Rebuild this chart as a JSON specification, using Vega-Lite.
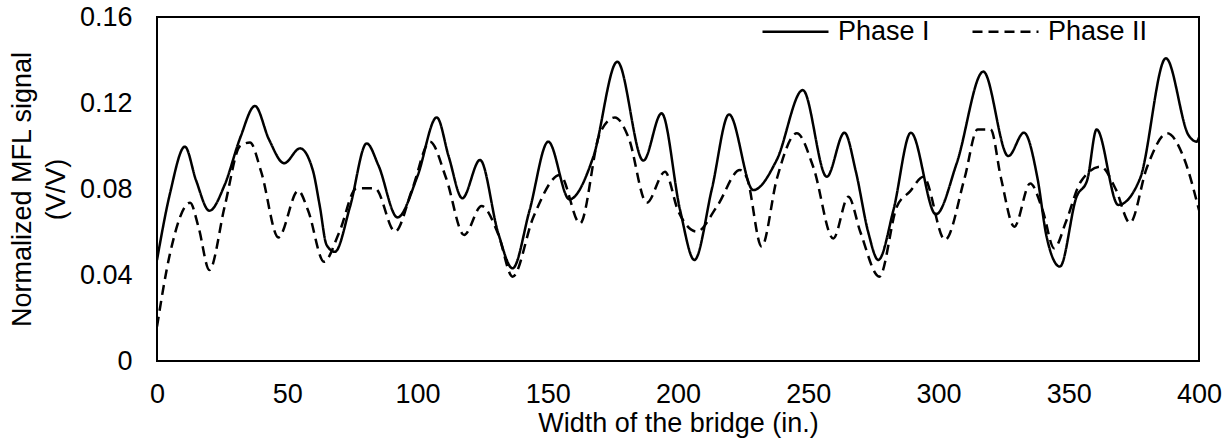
{
  "$schema": "https://vega.github.io/schema/vega-lite/v6.json",
  "width": 1042,
  "height": 344,
  "autosize": {"type": "none"},
  "padding": {"left": 157, "top": 17, "right": 29, "bottom": 80},
  "background": "white",
  "config": {
    "font": "Liberation Sans",
    "view": {"stroke": "#000", "strokeWidth": 2},
    "axis": {"grid": false, "domain": false, "ticks": false, "tickSize": 0, "labelColor": "#000", "titleColor": "#000", "labelFontSize": 27, "titleFontSize": 27, "titleFontWeight": "normal", "labelFont": "Liberation Sans", "titleFont": "Liberation Sans"},
    "legend": {"labelFont": "Liberation Sans", "labelColor": "#000"}
  },
  "data": {"values": [
    {"x": 0, "v": 0.047, "s": "Phase I"},
    {"x": 5, "v": 0.078, "s": "Phase I"},
    {"x": 10.7, "v": 0.0997, "s": "Phase I"},
    {"x": 15, "v": 0.084, "s": "Phase I"},
    {"x": 20.1, "v": 0.0699, "s": "Phase I"},
    {"x": 26, "v": 0.082, "s": "Phase I"},
    {"x": 32, "v": 0.104, "s": "Phase I"},
    {"x": 37.6, "v": 0.1186, "s": "Phase I"},
    {"x": 43, "v": 0.103, "s": "Phase I"},
    {"x": 48.8, "v": 0.092, "s": "Phase I"},
    {"x": 54.9, "v": 0.0989, "s": "Phase I"},
    {"x": 59.8, "v": 0.0888, "s": "Phase I"},
    {"x": 62.5, "v": 0.072, "s": "Phase I"},
    {"x": 65.1, "v": 0.054, "s": "Phase I"},
    {"x": 68.3, "v": 0.0508, "s": "Phase I"},
    {"x": 74.1, "v": 0.0718, "s": "Phase I"},
    {"x": 80.5, "v": 0.1012, "s": "Phase I"},
    {"x": 85, "v": 0.091, "s": "Phase I"},
    {"x": 92.3, "v": 0.0668, "s": "Phase I"},
    {"x": 100, "v": 0.086, "s": "Phase I"},
    {"x": 107.4, "v": 0.1133, "s": "Phase I"},
    {"x": 112, "v": 0.095, "s": "Phase I"},
    {"x": 117.2, "v": 0.0757, "s": "Phase I"},
    {"x": 124, "v": 0.0935, "s": "Phase I"},
    {"x": 131, "v": 0.0594, "s": "Phase I"},
    {"x": 136.5, "v": 0.0431, "s": "Phase I"},
    {"x": 143, "v": 0.07, "s": "Phase I"},
    {"x": 150.2, "v": 0.102, "s": "Phase I"},
    {"x": 158.3, "v": 0.0752, "s": "Phase I"},
    {"x": 167.5, "v": 0.095, "s": "Phase I"},
    {"x": 176.7, "v": 0.1392, "s": "Phase I"},
    {"x": 186.7, "v": 0.0932, "s": "Phase I"},
    {"x": 193.7, "v": 0.1152, "s": "Phase I"},
    {"x": 200.8, "v": 0.0702, "s": "Phase I"},
    {"x": 206.3, "v": 0.047, "s": "Phase I"},
    {"x": 213, "v": 0.08, "s": "Phase I"},
    {"x": 219.6, "v": 0.1147, "s": "Phase I"},
    {"x": 228.9, "v": 0.0795, "s": "Phase I"},
    {"x": 237.9, "v": 0.0935, "s": "Phase I"},
    {"x": 247.9, "v": 0.126, "s": "Phase I"},
    {"x": 257.1, "v": 0.0857, "s": "Phase I"},
    {"x": 263.9, "v": 0.1062, "s": "Phase I"},
    {"x": 268.3, "v": 0.088, "s": "Phase I"},
    {"x": 273, "v": 0.06, "s": "Phase I"},
    {"x": 276.9, "v": 0.047, "s": "Phase I"},
    {"x": 282.7, "v": 0.0702, "s": "Phase I"},
    {"x": 289.4, "v": 0.1062, "s": "Phase I"},
    {"x": 299, "v": 0.0682, "s": "Phase I"},
    {"x": 307, "v": 0.092, "s": "Phase I"},
    {"x": 317.2, "v": 0.1346, "s": "Phase I"},
    {"x": 326.8, "v": 0.0953, "s": "Phase I"},
    {"x": 332.8, "v": 0.1062, "s": "Phase I"},
    {"x": 338, "v": 0.085, "s": "Phase I"},
    {"x": 341.5, "v": 0.0578, "s": "Phase I"},
    {"x": 346.6, "v": 0.0439, "s": "Phase I"},
    {"x": 353, "v": 0.0764, "s": "Phase I"},
    {"x": 357.1, "v": 0.0842, "s": "Phase I"},
    {"x": 360.7, "v": 0.1077, "s": "Phase I"},
    {"x": 369, "v": 0.0726, "s": "Phase I"},
    {"x": 377.4, "v": 0.085, "s": "Phase I"},
    {"x": 387.3, "v": 0.1408, "s": "Phase I"},
    {"x": 396, "v": 0.105, "s": "Phase I"},
    {"x": 399.1, "v": 0.102, "s": "Phase I"},
    {"x": 400, "v": 0.104, "s": "Phase I"},
    {"x": 0, "v": 0.016, "s": "Phase II"},
    {"x": 5, "v": 0.05, "s": "Phase II"},
    {"x": 12.7, "v": 0.0736, "s": "Phase II"},
    {"x": 16, "v": 0.062, "s": "Phase II"},
    {"x": 20.1, "v": 0.0423, "s": "Phase II"},
    {"x": 26, "v": 0.072, "s": "Phase II"},
    {"x": 31.9, "v": 0.1, "s": "Phase II"},
    {"x": 35.7, "v": 0.1016, "s": "Phase II"},
    {"x": 40, "v": 0.088, "s": "Phase II"},
    {"x": 46.6, "v": 0.0575, "s": "Phase II"},
    {"x": 54.2, "v": 0.0792, "s": "Phase II"},
    {"x": 58, "v": 0.07, "s": "Phase II"},
    {"x": 64.1, "v": 0.0462, "s": "Phase II"},
    {"x": 70, "v": 0.06, "s": "Phase II"},
    {"x": 76.6, "v": 0.0803, "s": "Phase II"},
    {"x": 83.7, "v": 0.0803, "s": "Phase II"},
    {"x": 91.4, "v": 0.0602, "s": "Phase II"},
    {"x": 98, "v": 0.08, "s": "Phase II"},
    {"x": 104.8, "v": 0.102, "s": "Phase II"},
    {"x": 111, "v": 0.085, "s": "Phase II"},
    {"x": 117.9, "v": 0.0586, "s": "Phase II"},
    {"x": 124.6, "v": 0.0721, "s": "Phase II"},
    {"x": 131, "v": 0.059, "s": "Phase II"},
    {"x": 136.5, "v": 0.0392, "s": "Phase II"},
    {"x": 144.5, "v": 0.067, "s": "Phase II"},
    {"x": 154.7, "v": 0.0865, "s": "Phase II"},
    {"x": 162.4, "v": 0.064, "s": "Phase II"},
    {"x": 170, "v": 0.1059, "s": "Phase II"},
    {"x": 175.8, "v": 0.1133, "s": "Phase II"},
    {"x": 181, "v": 0.104, "s": "Phase II"},
    {"x": 188, "v": 0.0736, "s": "Phase II"},
    {"x": 195, "v": 0.088, "s": "Phase II"},
    {"x": 200, "v": 0.07, "s": "Phase II"},
    {"x": 207.2, "v": 0.0602, "s": "Phase II"},
    {"x": 215, "v": 0.072, "s": "Phase II"},
    {"x": 223.8, "v": 0.0888, "s": "Phase II"},
    {"x": 226.5, "v": 0.085, "s": "Phase II"},
    {"x": 232.1, "v": 0.0532, "s": "Phase II"},
    {"x": 238, "v": 0.085, "s": "Phase II"},
    {"x": 245.6, "v": 0.1059, "s": "Phase II"},
    {"x": 252, "v": 0.09, "s": "Phase II"},
    {"x": 259.6, "v": 0.057, "s": "Phase II"},
    {"x": 265.4, "v": 0.0764, "s": "Phase II"},
    {"x": 270, "v": 0.06, "s": "Phase II"},
    {"x": 277.3, "v": 0.0392, "s": "Phase II"},
    {"x": 284, "v": 0.0718, "s": "Phase II"},
    {"x": 289, "v": 0.0788, "s": "Phase II"},
    {"x": 294.2, "v": 0.0857, "s": "Phase II"},
    {"x": 302.5, "v": 0.0563, "s": "Phase II"},
    {"x": 310, "v": 0.085, "s": "Phase II"},
    {"x": 315, "v": 0.1077, "s": "Phase II"},
    {"x": 320, "v": 0.1077, "s": "Phase II"},
    {"x": 324, "v": 0.085, "s": "Phase II"},
    {"x": 329.1, "v": 0.0625, "s": "Phase II"},
    {"x": 335.2, "v": 0.0826, "s": "Phase II"},
    {"x": 340, "v": 0.07, "s": "Phase II"},
    {"x": 344.4, "v": 0.0524, "s": "Phase II"},
    {"x": 349, "v": 0.065, "s": "Phase II"},
    {"x": 354.6, "v": 0.0834, "s": "Phase II"},
    {"x": 362.3, "v": 0.0904, "s": "Phase II"},
    {"x": 368, "v": 0.08, "s": "Phase II"},
    {"x": 373.5, "v": 0.0643, "s": "Phase II"},
    {"x": 380, "v": 0.09, "s": "Phase II"},
    {"x": 387.8, "v": 0.1059, "s": "Phase II"},
    {"x": 394, "v": 0.095, "s": "Phase II"},
    {"x": 400, "v": 0.0702, "s": "Phase II"}
  ]},
  "mark": {"type": "line", "interpolate": "monotone", "color": "#000", "strokeWidth": 2.5, "clip": true},
  "encoding": {
    "x": {"field": "x", "type": "quantitative", "scale": {"domain": [0, 400], "nice": false, "zero": false},
      "axis": {"values": [0, 50, 100, 150, 200, 250, 300, 350, 400], "labelFlush": false, "labelPadding": 20, "title": "Width of the bridge (in.)", "titlePadding": 3}},
    "y": {"field": "v", "type": "quantitative", "scale": {"domain": [0, 0.16], "nice": false},
      "axis": {"values": [0, 0.04, 0.08, 0.12, 0.16], "format": ".2~f", "labelPadding": 25, "title": ["Normalized MFL signal", "(V/V)"], "titleLineHeight": 34, "titlePadding": 9}},
    "strokeDash": {"field": "s", "type": "nominal",
      "scale": {"domain": ["Phase I", "Phase II"], "range": [[1, 0], [10, 6]]},
      "legend": {"title": null, "orient": "none", "legendX": 604, "legendY": -20, "direction": "horizontal", "columns": 2, "symbolType": "stroke", "symbolSize": 4356, "symbolStrokeWidth": 2.5, "symbolStrokeColor": "#000", "labelFontSize": 27, "labelOffset": 8, "columnPadding": 37, "padding": 0}}
  }
}
